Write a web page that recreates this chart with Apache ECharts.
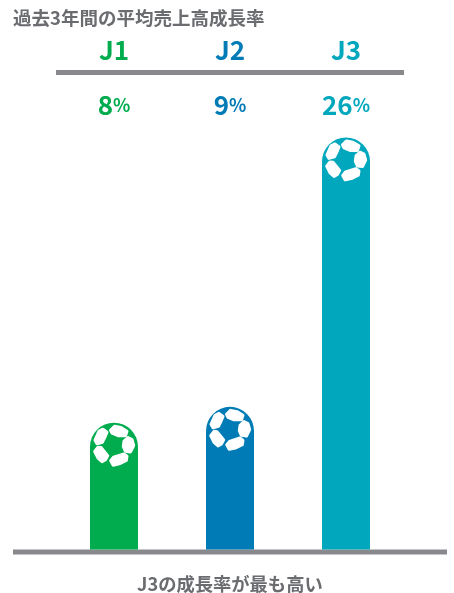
<!DOCTYPE html>
<html>
<head>
<meta charset="utf-8">
<style>html,body{margin:0;padding:0;background:#fff}#c{width:454px;height:593px}</style>
<script src="https://cdn.jsdelivr.net/npm/echarts@6/dist/echarts.min.js"></script>
</head>
<body>
<div id="c"></div>
<script>
const leagues = ['J1', 'J2', 'J3'];
const growthRates = [8, 9, 26];
const leagueColors = ['#00ac4e', '#007bb6', '#00a7bd'];
const chartTitle = '過去3年間の平均売上高成長率';
const chartNote = 'J3の成長率が最も高い';

const FONT = '"Noto Sans CJK JP", "Noto Sans", sans-serif';
const GREY_TEXT = '#6a6c70';
const GREY_RULE = '#87898c';

// White panels of the football, in px relative to the ball centre.
const ballPanels = [
  [[-19,-6],[-15,-15],[-11,-17],[-7,-14],[-9.5,-8],[-11.5,-4],[-17,-2.5]],
  [[-3.5,-16],[0.5,-20],[7,-18.7],[13,-15],[11.5,-10.5],[4,-10.5],[-2,-13]],
  [[10,-5],[14,-8.7],[18,-6.7],[19.7,-0.7],[16.5,5.7],[11.3,5],[9.3,0.3]],
  [[-3.3,14.5],[-0.5,11],[10,7.7],[13,10],[12.3,14.3],[5.3,17.7],[-0.8,19]],
  [[-19.3,5.3],[-16,1],[-13,1.3],[-6.3,9.5],[-8.5,13.5],[-12,15.5],[-16,12]]
];
const BAR_WIDTH = 48;
const BALL_RADIUS = BAR_WIDTH / 2;

function renderBall(params, api) {
  const top = api.coord([api.value(0), api.value(1)]);
  const cx = top[0], cy = top[1] + BALL_RADIUS - 0.5;
  return {
    type: 'group',
    children: ballPanels.map(function (pts) {
      return {
        type: 'polygon',
        shape: { points: pts.map(function (p) { return [cx + p[0], cy + p[1]]; }) },
        style: { fill: '#fff', stroke: '#fff', lineWidth: 3, lineJoin: 'round' }
      };
    })
  };
}

const option = {
  backgroundColor: '#fff',
  animation: false,
  title: [
    { text: chartTitle, left: 8, top: 4,
      textStyle: { fontFamily: FONT, fontSize: 18.5, fontWeight: 'bold', color: GREY_TEXT } },
    { text: chartNote, left: 132, top: 570,
      textStyle: { fontFamily: FONT, fontSize: 18.3, fontWeight: 'bold', color: GREY_TEXT } }
  ],
  grid: { left: 56, width: 348, top: 74, height: 475.5 },
  xAxis: [
    {
      type: 'category', position: 'top', offset: 2,
      data: leagues.map(function (name, i) {
        return { value: name, textStyle: { color: leagueColors[i] } };
      }),
      axisLine: { show: true, onZero: false, lineStyle: { color: GREY_RULE, width: 5, cap: 'butt' } },
      axisTick: { show: false },
      axisLabel: { margin: 9, fontFamily: FONT, fontSize: 26, fontWeight: 'bold' }
    },
    {
      type: 'category', position: 'top', offset: -44,
      data: growthRates.map(String),
      axisLine: { show: false },
      axisTick: { show: false },
      axisLabel: {
        margin: 0,
        formatter: function (value, i) { return '{n' + i + '|' + value + '}{p' + i + '|%}'; },
        rich: Object.fromEntries(leagueColors.flatMap(function (c, i) {
          return [
            ['n' + i, { fontFamily: FONT, fontSize: 26, fontWeight: 'bold', color: c }],
            ['p' + i, { fontFamily: FONT, fontSize: 18, fontWeight: 'bold', color: c }]
          ];
        }))
      }
    }
  ],
  yAxis: { type: 'value', min: 0, max: 30, show: false },
  series: [
    {
      type: 'bar',
      barWidth: BAR_WIDTH,
      data: growthRates.map(function (v, i) {
        return { value: v, itemStyle: { color: leagueColors[i] } };
      }),
      itemStyle: { borderRadius: [BALL_RADIUS, BALL_RADIUS, 0, 0] },
      silent: true
    },
    {
      type: 'custom',
      coordinateSystem: 'cartesian2d',
      xAxisIndex: 0,
      yAxisIndex: 0,
      z: 5,
      renderItem: renderBall,
      data: growthRates.map(function (v, i) { return [i, v]; }),
      silent: true
    }
  ],
  graphic: [
    { type: 'line', shape: { x1: 13, y1: 552, x2: 447, y2: 552 },
      style: { stroke: GREY_RULE, lineWidth: 5 } }
  ]
};

echarts.init(document.getElementById('c'), null, { renderer: 'canvas' }).setOption(option);
</script>
</body>
</html>
